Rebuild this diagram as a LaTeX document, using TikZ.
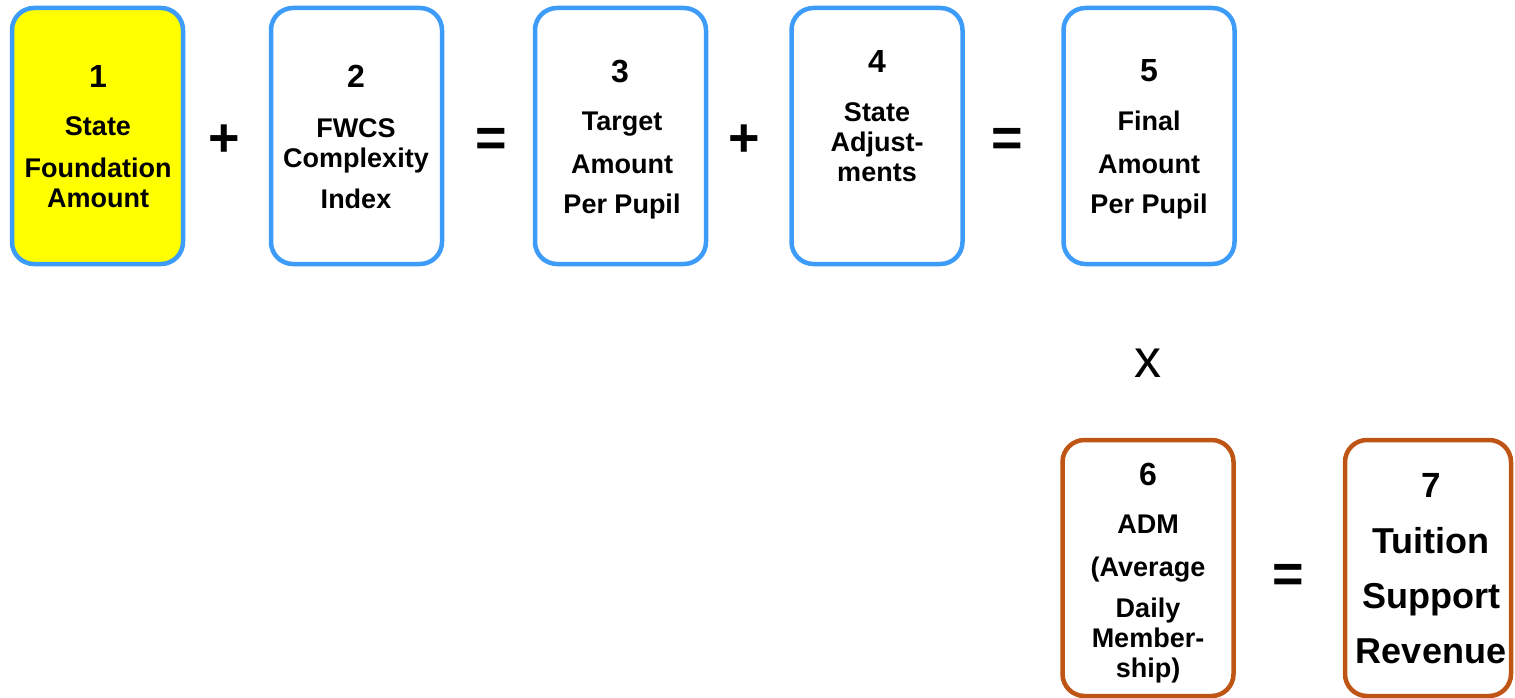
\documentclass[tikz,border=0pt]{standalone}
\usepackage{fontspec}
\setmainfont{Liberation Sans}
\definecolor{boxblue}{RGB}{61,155,250}
\definecolor{boxbrown}{RGB}{190,85,20}
\definecolor{boxyellow}{RGB}{255,255,0}
\begin{document}
\begin{tikzpicture}[x=1pt,y=-1pt,
  card/.style={draw=boxblue,line width=4.5pt,rounded corners=22pt,minimum width=171pt,minimum height=256pt,inner sep=0pt,outer sep=0pt},
  browncard/.style={card,draw=boxbrown},
  numtext/.style={font=\bfseries\fontsize{32}{36}\selectfont,anchor=base,inner sep=0pt},
  cardtext/.style={font=\bfseries\fontsize{27}{30}\selectfont,align=center,anchor=base,inner sep=0pt},
  op/.style={font=\bfseries\fontsize{54}{60}\selectfont,anchor=base,inner sep=0pt}]
\useasboundingbox (0,0) rectangle (1515,698);
% top row
\node[card,fill=boxyellow] (found) at (97.5,136) {};
\node[card] (fwcs) at (356.5,136) {};
\node[card] (target) at (620.5,136) {};
\node[card] (adjust) at (877,136) {};
\node[card] (final) at (1149,136) {};
\node[numtext] (n1) at (98,88) {1};
\node[cardtext] (t1) at (98,207) {State\\[12pt]Foundation\\Amount};
\node[numtext] (n2) at (356,88) {2};
\node[cardtext] (t2) at (356,208) {FWCS\\Complexity\\[11pt]Index};
\node[numtext] (n3) at (620,83) {3};
\node[cardtext] (t3) at (622,213) {Target\\[13pt]Amount\\[10pt]Per Pupil};
\node[numtext] (n4) at (877,73) {4};
\node[cardtext] (t4) at (877,182) {State\\Adjust-\\ments};
\node[numtext] (n5) at (1149,82) {5};
\node[cardtext] (t5) at (1149,213) {Final\\[13pt]Amount\\[10pt]Per Pupil};
% operators
\node[op] (plusA) at (224,157) {+};
\node[op] (eqA) at (491,157) {=};
\node[op] (plusB) at (744,157) {+};
\node[op] (eqB) at (1007,157) {=};
\node[op,font=\fontsize{54}{60}\selectfont] (times) at (1148,377) {x};
% bottom row
\node[browncard] (adm) at (1148,568) {};
\node[browncard,minimum width=166pt] (revenue) at (1428,568) {};
\node[numtext] (n6) at (1148,485) {6};
\node[cardtext] (t6) at (1148,677) {ADM\\[13pt](Average\\[11pt]Daily\\Member-\\ship)};
\node[numtext,font=\bfseries\fontsize{35}{40}\selectfont] (n7) at (1431,497) {7};
\node[cardtext,font=\bfseries\fontsize{36}{55}\selectfont] (t7) at (1431,663) {Tuition\\Support\\Revenue};
\node[op] (eqC) at (1288,592) {=};
\end{tikzpicture}
\end{document}
